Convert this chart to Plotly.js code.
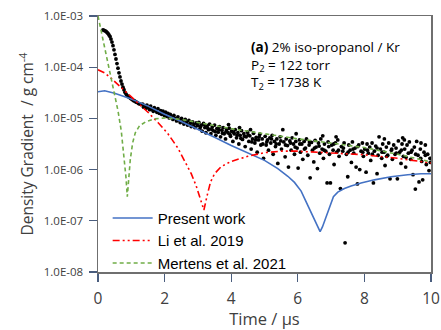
<!DOCTYPE html>
<html>
<head>
<meta charset="utf-8">
<script src="https://cdn.plot.ly/plotly-3.0.1.min.js"></script>
<style>html,body{margin:0;padding:0;background:#fff;}#chart{width:441px;height:330px;}</style>
</head>
<body>
<div id="chart"></div>
<script>
// Values. Densities are stored as log10(g cm^-4).
// Experimental points (black markers)
var expTime = [
0.15,0.18,0.21,0.24,0.27,0.30,0.33,0.36,0.39,0.42,0.45,0.48,0.51,0.54,0.57,0.60,0.63,0.66,0.69,0.72,0.75,0.78,0.81,0.84,0.87,0.90,0.94,0.98,1.02,1.06,1.10,1.14,1.18,1.22,1.26,1.30,
1.34,1.37,1.40,1.44,1.47,1.51,1.55,1.58,1.62,1.66,1.69,1.73,1.77,1.80,1.84,1.88,1.91,1.95,1.99,2.03,2.06,2.10,2.14,2.17,2.21,2.25,2.28,2.32,2.36,2.40,2.43,2.47,2.51,2.55,2.58,2.62,2.66,2.69,2.73,2.77,2.80,2.84,2.88,2.91,2.95,2.99,
3.03,3.06,3.10,3.13,3.17,3.21,3.24,3.28,3.32,3.35,3.39,3.43,3.46,3.50,3.54,3.57,3.61,3.65,3.68,3.72,3.76,3.79,3.83,3.87,3.90,3.94,3.98,4.01,4.05,4.09,4.12,4.16,4.20,4.23,4.27,4.31,4.34,4.38,4.42,4.45,4.49,4.53,4.56,4.60,4.64,4.67,4.71,4.75,4.78,4.82,4.86,4.89,4.93,4.97,
3.08,3.19,3.30,3.41,3.52,3.63,3.74,3.85,3.96,4.07,4.18,4.29,4.40,4.51,4.62,4.73,4.84,4.95,4.25,4.58,3.92,
5.02,5.05,5.09,5.12,5.16,5.19,5.23,5.26,5.30,5.33,5.37,5.40,5.44,5.47,5.51,5.55,5.58,5.62,5.65,5.69,5.72,5.76,5.80,5.83,5.87,5.90,5.94,5.98,
6.01,6.05,6.08,6.12,6.15,6.19,6.23,6.26,6.30,6.34,6.37,6.41,6.44,6.48,6.52,6.55,6.59,6.62,6.66,6.69,6.73,6.77,6.80,6.84,6.88,6.91,6.95,6.98,
7.02,7.06,7.09,7.13,7.17,7.20,7.24,7.28,7.31,7.35,7.39,7.42,7.46,7.50,7.53,7.57,7.61,7.64,7.68,7.72,7.75,7.79,7.83,7.86,7.90,7.94,7.97,
8.01,8.05,8.08,8.12,8.16,8.19,8.23,8.27,8.30,8.34,8.38,8.41,8.44,8.48,8.52,8.55,8.59,8.62,8.66,8.70,8.73,8.77,8.81,8.84,8.88,8.92,8.95,8.99,
9.02,9.06,9.10,9.13,9.17,9.21,9.24,9.28,9.32,9.35,9.39,9.43,9.46,9.50,9.53,9.57,9.61,9.64,9.68,9.72,9.75,9.79,9.83,9.86,9.90,9.94,9.97,
5.07,5.21,5.35,5.49,5.63,5.78,5.92,6.06,6.20,6.35,6.50,6.64,6.79,6.93,7.08,7.22,7.37,7.51,7.66,7.80,7.95,8.09,8.24,8.38,8.53,8.67,8.82,8.96,9.11,9.25,9.40,9.54,9.69,9.83,9.98,
5.95,6.75,7.15,8.60,9.20,9.70,9.15
];
var expLog = [
-3.27,-3.28,-3.29,-3.30,-3.32,-3.34,-3.37,-3.40,-3.45,-3.51,-3.58,-3.66,-3.75,-3.84,-3.93,-4.02,-4.11,-4.19,-4.27,-4.33,-4.39,-4.44,-4.49,-4.52,-4.55,-4.57,-4.59,-4.61,-4.63,-4.65,-4.66,-4.68,-4.69,-4.71,-4.72,-4.73,
-4.72,-4.78,-4.75,-4.80,-4.74,-4.79,-4.83,-4.76,-4.82,-4.86,-4.79,-4.84,-4.88,-4.81,-4.90,-4.85,-4.92,-4.86,-4.94,-4.88,-4.96,-4.90,-4.99,-4.92,-4.97,-5.02,-4.94,-5.00,-5.05,-4.97,-5.03,-5.08,-5.00,-5.06,-5.11,-5.02,-5.08,-5.13,-5.04,-5.10,-5.16,-5.07,-5.12,-5.18,-5.09,-5.14,
-5.08,-5.20,-5.13,-5.25,-5.10,-5.18,-5.28,-5.14,-5.22,-5.11,-5.30,-5.17,-5.24,-5.13,-5.33,-5.20,-5.27,-5.16,-5.36,-5.23,-5.18,-5.30,-5.40,-5.21,-5.28,-5.19,-5.35,-5.25,-5.45,-5.30,-5.22,-5.38,-5.28,-5.50,-5.33,-5.24,-5.41,-5.30,-5.55,-5.36,-5.27,-5.45,-5.34,-5.60,-5.40,-5.29,-5.48,-5.37,-5.66,-5.42,-5.31,-5.52,-5.40,-5.78,
-5.16,-5.12,-5.19,-5.21,-5.26,-5.22,-5.29,-5.25,-5.31,-5.27,-5.33,-5.39,-5.35,-5.32,-5.46,-5.42,-5.36,-5.50,-5.18,-5.22,-5.12,
-5.35,-5.52,-5.42,-5.62,-5.38,-5.48,-5.33,-5.70,-5.45,-5.55,-5.40,-5.88,-5.50,-5.36,-5.60,-5.22,-5.46,-5.75,-5.40,-5.53,-5.95,-5.44,-5.62,-5.38,-5.50,-5.70,-5.45,-5.58,
-5.97,-5.42,-5.66,-5.50,-5.80,-5.45,-5.58,-5.40,-5.72,-5.52,-6.16,-5.47,-5.62,-5.85,-5.43,-5.56,-5.98,-5.48,-5.68,-5.40,-5.60,-5.78,-5.50,-5.64,-6.26,-5.46,-5.70,-6.26,
-5.52,-5.62,-5.90,-5.48,-5.66,-5.42,-5.74,-6.37,-5.55,-5.64,-5.48,-7.43,-5.70,-6.14,-5.52,-5.62,-5.86,-5.46,-5.68,-5.58,-5.95,-6.28,-5.52,-6.00,-5.64,-5.48,-5.74,
-5.60,-6.05,-5.50,-5.68,-5.56,-5.82,-5.48,-6.26,-5.64,-5.54,-6.08,-5.72,-5.36,-5.60,-5.78,-5.50,-5.66,-5.92,-5.56,-5.72,-5.48,-6.18,-5.62,-5.80,-5.52,-5.70,-5.58,-6.18,
-5.44,-5.66,-5.88,-5.50,-5.74,-5.60,-5.95,-5.52,-5.68,-5.46,-5.80,-5.62,-6.10,-5.56,-6.38,-5.45,-5.72,-6.24,-5.60,-5.84,-6.20,-5.66,-5.52,-5.90,-5.70,-6.02,-5.78,
-5.46,-5.40,-5.50,-5.44,-5.52,-5.48,-5.56,-5.50,-5.60,-5.46,-5.58,-5.54,-5.62,-5.55,-5.50,-5.62,-5.58,-5.66,-5.60,-5.55,-5.66,-5.62,-5.70,-5.58,-5.66,-5.74,-5.60,-5.68,-5.62,-5.76,-5.66,-5.70,-5.78,-5.72,-5.86,
-5.30,-5.34,-5.36,-5.40,-5.42,-5.48,-5.38
];

// Present work (blue solid)
var presentTime = [0,0.2,0.5,1,1.5,2,2.5,3,3.5,4,4.5,5,5.4,5.7,5.9,6.1,6.3,6.5,6.6,6.67,6.74,6.82,6.9,6.97,7.07,7.2,7.4,7.6,7.9,8.3,8.8,9.3,9.7,10];
var presentLog  = [-4.48,-4.46,-4.51,-4.62,-4.76,-4.92,-5.06,-5.21,-5.37,-5.53,-5.67,-5.82,-5.98,-6.13,-6.25,-6.42,-6.70,-6.98,-7.13,-7.21,-7.12,-6.98,-6.82,-6.68,-6.53,-6.44,-6.37,-6.32,-6.26,-6.20,-6.14,-6.10,-6.08,-6.08];

// Li et al. 2019 (red dash-dot)
var liTime = [0,0.2,0.4,0.6,0.8,1.0,1.2,1.5,1.8,2.1,2.4,2.6,2.8,2.95,3.07,3.18,3.28,3.38,3.5,3.7,4.0,4.5,5.0,5.5,6,7,8,9,10];
var liLog  = [-4.05,-4.11,-4.22,-4.34,-4.46,-4.58,-4.69,-4.88,-5.08,-5.30,-5.58,-5.82,-6.08,-6.32,-6.55,-6.79,-6.50,-6.24,-6.08,-5.94,-5.84,-5.74,-5.67,-5.64,-5.64,-5.67,-5.71,-5.78,-5.87];

// Mertens et al. 2021 (green dashed)
var mertensTime = [0,0.2,0.4,0.6,0.7,0.78,0.84,0.88,0.92,0.97,1.04,1.12,1.25,1.45,1.7,2.0,2.5,3,4,5,6,7,8,9,10];
var mertensLog  = [-3.0,-3.6,-4.2,-4.85,-5.25,-5.7,-6.15,-6.53,-6.2,-5.8,-5.48,-5.28,-5.14,-5.06,-5.01,-4.99,-5.02,-5.08,-5.2,-5.3,-5.4,-5.48,-5.57,-5.7,-5.85];

var yTickVals = [1e-3,1e-4,1e-5,1e-6,1e-7,1e-8];
var yTickText = ['1.0E-03','1.0E-04','1.0E-05','1.0E-06','1.0E-07','1.0E-08'];
var xTickVals = [0,2,4,6,8,10];

function toDensity(arr){ return arr.map(function(v){ return Math.pow(10, v); }); }

var traces = [
  {x: expTime, y: toDensity(expLog), type: 'scatter', mode: 'markers', showlegend: false,
   marker: {color: '#000000', size: 3.8}, hoverinfo: 'skip'},
  {x: presentTime, y: toDensity(presentLog), type: 'scatter', mode: 'lines', name: 'Present work',
   line: {color: '#4472C4', width: 1.6}},
  {x: liTime, y: toDensity(liLog), type: 'scatter', mode: 'lines', name: 'Li et al. 2019',
   line: {color: '#FF0000', width: 1.6, dash: '7px,3px,2px,3px,2px,3px'}},
  {x: mertensTime, y: toDensity(mertensLog), type: 'scatter', mode: 'lines', name: 'Mertens et al. 2021',
   line: {color: '#70AD47', width: 1.6, dash: '4px,3px'}}
];

var layout = {
  width: 441, height: 330,
  margin: {l: 98, r: 10, t: 16, b: 58},
  paper_bgcolor: '#ffffff', plot_bgcolor: '#ffffff',
  font: {family: 'Open Sans, sans-serif', color: '#404040'},
  xaxis: {
    range: [0, 10], tickvals: xTickVals, ticks: 'outside', ticklen: 8, tickwidth: 1.3,
    tickcolor: '#4a5d7e', showline: true, linecolor: '#6f6f6f', linewidth: 1.5, mirror: true,
    showgrid: false, zeroline: false, ticklabelstandoff: 4,
    tickfont: {family: 'Open Sans, sans-serif', size: 15.5, color: '#404040'},
    title: {text: 'Time / μs', font: {family: 'Open Sans, sans-serif', size: 16.5, color: '#404040'}, standoff: 6}
  },
  yaxis: {
    type: 'log', range: [-8, -3], tickvals: yTickVals, ticktext: yTickText,
    ticks: 'outside', ticklen: 8, tickwidth: 1.3, tickcolor: '#4a5d7e',
    showline: true, linecolor: '#6f6f6f', linewidth: 1.5, mirror: true,
    showgrid: false, zeroline: false, ticklabelstandoff: 3,
    tickfont: {family: 'Open Sans, sans-serif', size: 11.5, color: '#404040'},
    title: {text: 'Density Gradient \u00a0/ g cm<sup>-4</sup>', font: {family: 'Open Sans, sans-serif', size: 15.5, color: '#404040'}, standoff: 6}
  },
  legend: {
    x: 0.029, y: -0.03, xanchor: 'left', yanchor: 'bottom',
    bgcolor: 'rgba(0,0,0,0)', borderwidth: 0,
    font: {family: 'Liberation Sans, Arial, sans-serif', size: 15, color: '#000000'},
    itemwidth: 40, tracegroupgap: 0
  },
  annotations: [{
    xref: 'paper', yref: 'paper', x: 0.453, y: 0.92, xanchor: 'left', yanchor: 'top', align: 'left',
    showarrow: false,
    text: '<b>(a)</b> 2% iso-propanol / Kr<br>P<sub>2</sub> = 122 torr<br>T<sub>2</sub> = 1738 K',
    font: {family: 'Open Sans, sans-serif', size: 13.5, color: '#000000'}
  }]
};

Plotly.newPlot('chart', traces, layout, {displayModeBar: false, staticPlot: true});
</script>
</body>
</html>
